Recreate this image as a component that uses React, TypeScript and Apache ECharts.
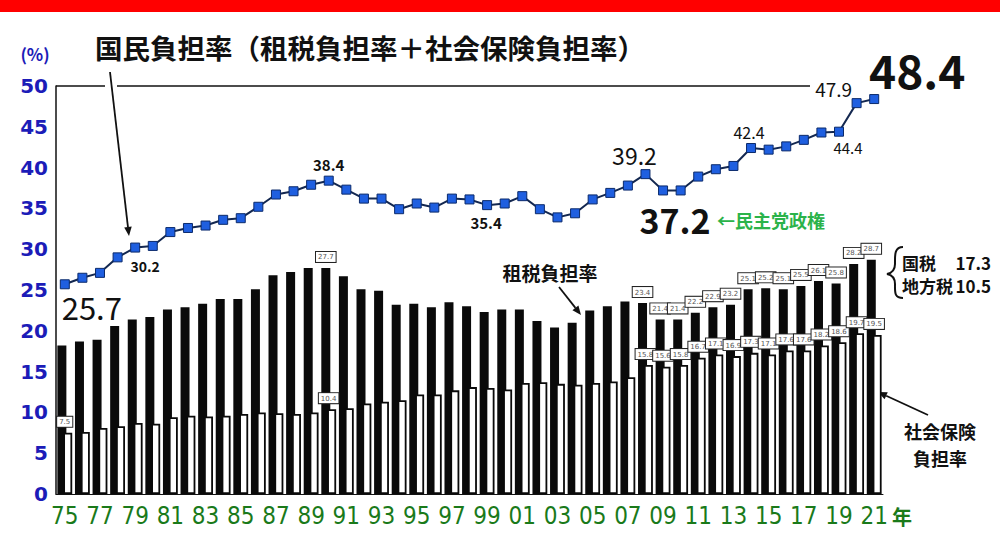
import React, { useEffect, useRef } from 'react';
import * as echarts from 'echarts';

const years = ['75','76','77','78','79','80','81','82','83','84','85','86','87','88','89','90','91','92','93','94','95','96','97','98','99','00','01','02','03','04','05','06','07','08','09','10','11','12','13','14','15','16','17','18','19','20','21'];
const totalRate = [25.7,26.5,27.1,29.0,30.2,30.4,32.1,32.6,32.9,33.6,33.8,35.2,36.7,37.1,37.9,38.4,37.3,36.2,36.2,34.9,35.6,35.1,36.2,36.1,35.4,35.6,36.5,34.9,33.9,34.4,36.1,36.9,37.8,39.2,37.2,37.2,38.9,39.8,40.2,42.4,42.2,42.6,43.4,44.3,44.4,47.9,48.4];
const taxRate = [18.2,18.7,18.9,20.6,21.4,21.7,22.6,22.9,23.3,23.9,23.9,25.1,26.8,27.2,27.7,27.7,26.7,25.1,24.9,23.2,23.3,22.9,23.5,23.0,22.3,22.6,22.6,21.2,20.4,21.0,22.5,23.0,23.6,23.4,21.4,21.4,22.2,22.9,23.2,25.1,25.2,25.1,25.5,26.1,25.8,28.2,28.7];
const socialRate = [7.5,7.6,8.1,8.3,8.7,8.6,9.4,9.6,9.5,9.6,9.8,10.0,9.9,9.8,10.0,10.4,10.5,11.1,11.3,11.5,12.2,12.2,12.7,13.1,13.0,12.8,13.6,13.7,13.5,13.4,13.6,13.8,14.3,15.8,15.6,15.8,16.7,17.1,16.9,17.3,17.1,17.6,17.6,18.2,18.6,19.7,19.5];
const taxLabelYears = ['90','08','09','10','11','12','13','14','15','16','17','18','19','20','21'];
const socialLabelYears = ['75','90','08','09','10','11','12','13','14','15','16','17','18','19','20','21'];
const nationalTax = 17.3;
const localTax = 10.5;

const CJK = '"Noto Sans CJK JP", "Noto Sans", sans-serif';

// label styles for highlighted points on the total line
const lineLabelStyle: Record<string, { off: [number, number]; size: number; weight: string }> = {
  '75': { off: [27, 22], size: 31, weight: 'normal' },
  '79': { off: [10, 18], size: 14, weight: 'bold' },
  '90': { off: [0, -16], size: 15, weight: 'bold' },
  '99': { off: [-1, 17], size: 15, weight: 'bold' },
  '08': { off: [-11, -19], size: 23, weight: 'normal' },
  '09': { off: [12, 29], size: 34, weight: 'bold' },
  '14': { off: [-2, -16], size: 16, weight: 'normal' },
  '19': { off: [9, 16], size: 15, weight: 'normal' },
  '20': { off: [-23, -15], size: 19, weight: 'normal' },
  '21': { off: [43, -30], size: 46, weight: 'bold' },
};

const boxLabel = {
  show: true,
  position: 'top',
  distance: 6,
  fontSize: 7,
  color: '#555',
  backgroundColor: '#fff',
  borderColor: '#222',
  borderWidth: 1,
  padding: [2, 2, 1, 2],
  fontFamily: 'DejaVu Sans',
  formatter: (p: any) => Number(p.value).toFixed(1),
};

function arrow(x1: number, y1: number, x2: number, y2: number, w = 1.8, head = 9) {
  const ang = Math.atan2(y2 - y1, x2 - x1);
  const hx = x2 - head * Math.cos(ang);
  const hy = y2 - head * Math.sin(ang);
  const px = -Math.sin(ang) * head * 0.42;
  const py = Math.cos(ang) * head * 0.42;
  return [
    { type: 'line', shape: { x1, y1, x2: hx, y2: hy }, style: { stroke: '#111', lineWidth: w } },
    { type: 'polygon', shape: { points: [[x2, y2], [hx + px, hy + py], [hx - px, hy - py]] }, style: { fill: '#111' } },
  ];
}

function txt(text: string, x: number, y: number, size: number, color: string, weight = 'bold', align = 'center', family = CJK) {
  return {
    type: 'text',
    x,
    y,
    style: {
      text,
      fontSize: size,
      fontWeight: weight,
      fontFamily: family,
      fill: color,
      align,
      verticalAlign: 'middle',
      textAlign: align,
      textVerticalAlign: 'middle',
    },
  };
}

let braceRegistered = false;

export default function App() {
  const ref = useRef<HTMLDivElement>(null);
  useEffect(() => {
    if (!ref.current) return;
    if (!braceRegistered) {
      echarts.graphic.registerShape(
        'brace',
        echarts.graphic.extendPath(
          'M903,247 C894,247 895,256 895,264 C895,270 892,273 887,274 C892,275 895,278 895,284 C895,292 894,298 903,298',
          {}
        )
      );
      braceRegistered = true;
    }
    const chart = echarts.init(ref.current, null, { renderer: 'svg' });

    const lineData = totalRate.map((v, i) => {
      const st = lineLabelStyle[years[i]];
      if (!st) return v;
      return {
        value: v,
        label: {
          show: true,
          position: 'inside',
          offset: st.off,
          fontSize: st.size,
          fontWeight: st.weight,
          fontFamily: CJK,
          color: '#111',
          align: 'center',
          verticalAlign: 'middle',
        },
      };
    });
    const taxData = taxRate.map((v, i) =>
      taxLabelYears.includes(years[i]) ? { value: v, label: { ...boxLabel } } : v
    );
    const socialData = socialRate.map((v, i) =>
      socialLabelYears.includes(years[i]) ? { value: v, label: { ...boxLabel, offset: [-3, 0] } } : v
    );

    const option: any = {
      animation: false,
      backgroundColor: '#fff',
      grid: { left: 56, right: 117, top: 86, bottom: 56, containLabel: false },
      xAxis: {
        type: 'category',
        data: years,
        axisLine: { show: true, lineStyle: { color: '#111', width: 1 } },
        axisTick: { show: false },
        axisLabel: {
          interval: 1,
          color: '#1a7a1a',
          fontSize: 24,
          fontFamily: '"Liberation Sans Narrow", "DejaVu Sans Condensed", "Noto Sans", sans-serif',
          margin: 10,
        },
      },
      yAxis: {
        type: 'value',
        min: 0,
        max: 50,
        interval: 5,
        axisLine: { show: true, lineStyle: { color: '#111', width: 1.5 } },
        axisTick: { show: false },
        splitLine: { show: false },
        axisLabel: {
          color: '#1c1cb8',
          fontSize: 20,
          fontWeight: 'bold',
          fontFamily: '"DejaVu Sans", sans-serif',
          margin: 8,
        },
      },
      series: [
        {
          name: '租税負担率',
          type: 'bar',
          data: taxData,
          barWidth: 9,
          barGap: '-35%',
          itemStyle: { color: '#0a0a0a' },
          z: 2,
        },
        {
          name: '社会保険負担率',
          type: 'bar',
          data: socialData,
          barWidth: 9,
          barGap: '-35%',
          itemStyle: { color: '#fff', borderColor: '#0a0a0a', borderWidth: 1.8 },
          z: 3,
        },
        {
          name: '国民負担率',
          type: 'line',
          data: lineData,
          symbol: 'rect',
          symbolSize: 9,
          itemStyle: { color: '#1f5fe0', borderColor: '#0b2a6b', borderWidth: 1 },
          lineStyle: { color: '#142850', width: 2 },
          z: 5,
        },
      ],
      graphic: [
        { type: 'rect', shape: { x: 0, y: 0, width: 1000, height: 12 }, style: { fill: '#ff0000' } },
        { type: 'line', shape: { x1: 56, y1: 86, x2: 105, y2: 86 }, style: { stroke: '#111', lineWidth: 1.5 } },
        { type: 'line', shape: { x1: 117, y1: 86, x2: 810, y2: 86 }, style: { stroke: '#111', lineWidth: 1.5 } },
        txt('国民負担率（租税負担率＋社会保険負担率）', 95, 47, 27.5, '#111', 'bold', 'left'),
        txt('(%)', 35, 53, 17, '#1c1cb8', 'bold'),
        ...arrow(110, 72, 129, 236),
        txt('←民主党政権', 771, 220, 18, '#2bb34a', 'bold'),
        txt('租税負担率', 550, 272, 19, '#111', 'bold'),
        ...arrow(559, 287, 581, 315),
        { type: 'brace', x: 0, y: 0, style: { fill: 'none', stroke: '#111', lineWidth: 2 } },
        txt('国税', 902, 262, 17, '#111', 'bold', 'left'),
        txt(nationalTax.toFixed(1), 991, 262, 17, '#111', 'bold', 'right'),
        txt('地方税', 902, 285, 17, '#111', 'bold', 'left'),
        txt(localTax.toFixed(1), 991, 285, 17, '#111', 'bold', 'right'),
        ...arrow(928, 415, 878, 392),
        txt('社会保険', 940, 431, 18, '#111', 'bold'),
        txt('負担率', 940, 458, 18, '#111', 'bold'),
        txt('年', 902, 516, 20, '#1a7a1a', 'bold'),
      ],
    };
    chart.setOption(option);
    return () => chart.dispose();
  }, []);
  return (
    <div
      ref={ref}
      style={{ position: 'fixed', left: 0, top: 0, width: 1000, height: 550, background: '#fff' }}
    />
  );
}
